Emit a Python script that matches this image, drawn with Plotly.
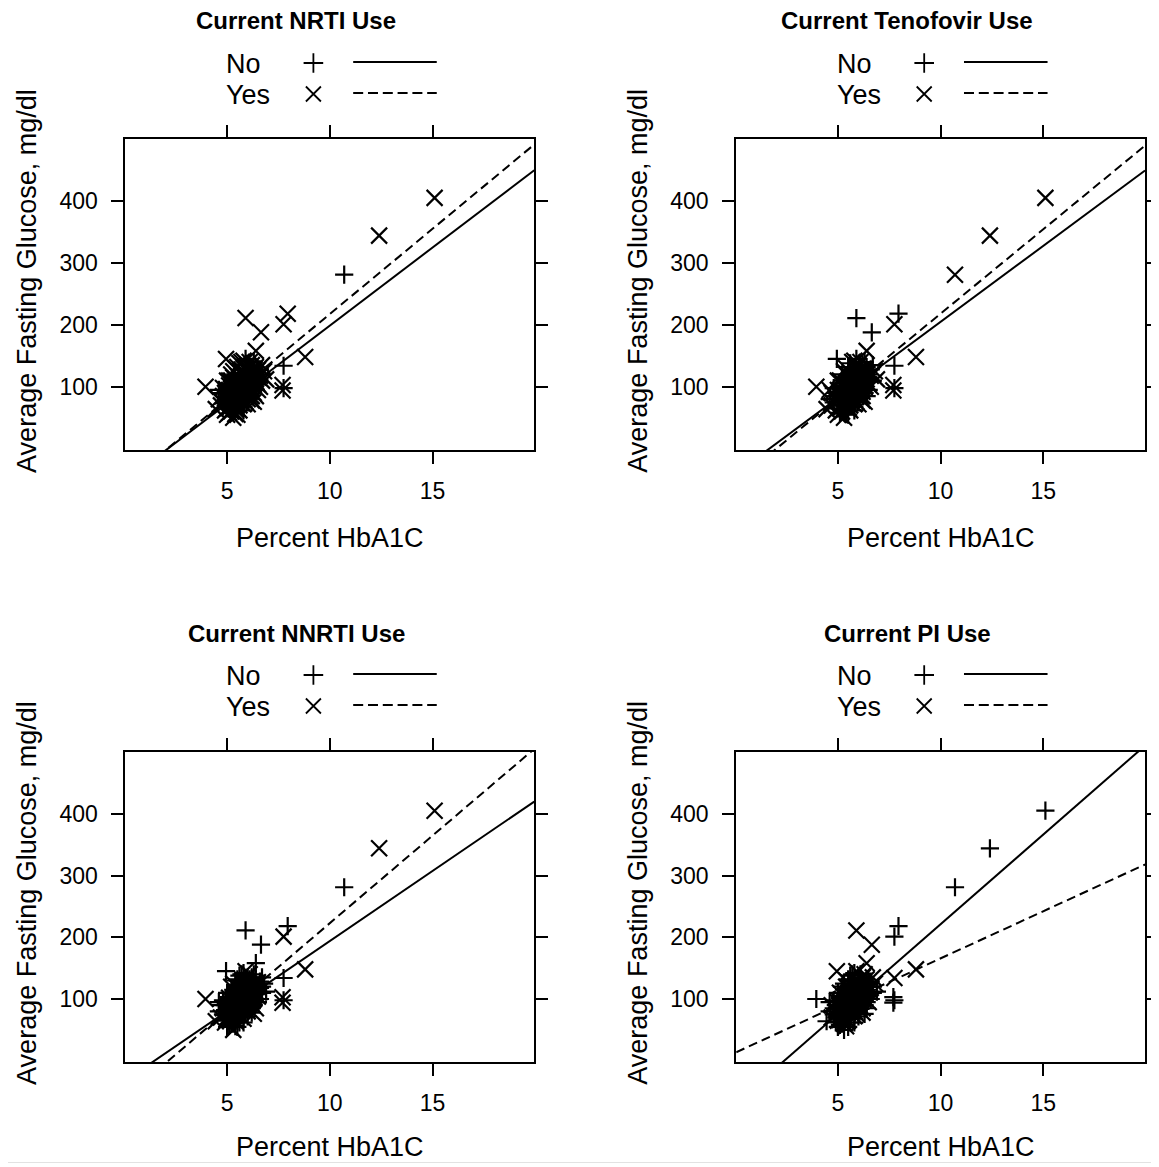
import plotly.graph_objects as go

# page shows the figure with an 8px body margin; work in screenshot pixels
PAGE_W, PAGE_H = 1159, 1167
OFF = 8
W, H = PAGE_W - OFF, PAGE_H - OFF

# ---------------- data ----------------
# dense cluster of patients followed by the 17 visible outliers;
# the same patients appear in every panel, only the grouping changes
hba1c = [
    4.8, 4.9, 5.0, 5.0, 5.1, 5.1, 5.2, 5.2, 5.2, 5.3,
    5.3, 5.3, 5.4, 5.4, 5.4, 5.4, 5.5, 5.5, 5.5, 5.5,
    5.5, 5.6, 5.6, 5.6, 5.6, 5.6, 5.7, 5.7, 5.7, 5.7,
    5.7, 5.8, 5.8, 5.8, 5.8, 5.8, 5.9, 5.9, 5.9, 5.9,
    5.9, 6.0, 6.0, 6.0, 6.0, 6.0, 6.1, 6.1, 6.1, 6.1,
    6.2, 6.2, 6.2, 6.2, 6.3, 6.3, 6.3, 6.4, 6.4, 6.5,
    6.5, 6.6, 6.7, 4.7, 4.6, 4.9, 5.1, 5.3, 5.0, 5.2,
    5.4, 5.6, 5.8, 6.0, 6.2, 6.4, 6.6, 6.8, 5.1, 5.3,
    5.5, 5.7, 5.9, 6.1, 6.3, 5.4, 5.6, 5.8, 5.0, 4.8,
    4.7, 5.2, 5.4, 5.6, 5.8, 6.0, 6.2, 6.4, 6.5, 5.3,
    5.5, 5.7, 5.9, 6.1, 5.2, 6.9, 6.7, 5.0, 5.5, 6.3,
    5.1, 5.3, 5.5, 5.7, 5.9, 6.1, 6.3, 5.2, 5.4, 5.6,
    5.8, 6.0, 6.2, 5.0, 5.2, 5.4, 5.6, 5.8, 6.0, 6.2,
    6.4, 6.6, 5.3, 5.5, 5.7, 5.9, 6.1, 6.3, 6.5, 5.1,
    4.9, 5.1, 5.3, 5.5, 5.7, 5.9, 6.1, 6.3, 6.5, 6.7,
    4.6, 4.8, 5.0, 5.2, 5.4, 5.6, 5.8, 6.0, 6.2, 6.4,
    # outliers
    15.1, 12.4, 10.7, 5.9, 6.65, 7.95, 7.75, 7.75, 8.8, 7.7,
    7.7, 3.95, 4.95, 6.4, 5.3, 4.45, 7.75,
]
glucose = [
    75, 82, 70, 88, 95, 78, 85, 100, 68, 92,
    80, 105, 88, 97, 74, 112, 90, 83, 101, 118,
    65, 94, 86, 108, 77, 125, 99, 91, 115, 82,
    104, 96, 88, 120, 109, 72, 101, 93, 130, 112,
    84, 105, 97, 118, 89, 135, 110, 100, 123, 92,
    107, 116, 98, 128, 112, 103, 140, 120, 108, 115,
    127, 118, 110, 90, 80, 62, 58, 60, 110, 120,
    130, 138, 142, 80, 85, 95, 100, 125, 102, 115,
    108, 128, 76, 84, 90, 64, 70, 62, 95, 98,
    70, 76, 82, 98, 102, 112, 92, 132, 104, 98,
    95, 87, 121, 140, 92, 112, 135, 55, 55, 76,
    85, 88, 78, 95, 105, 115, 125, 110, 120, 115,
    130, 125, 135, 80, 72, 92, 104, 80, 92, 102,
    112, 128, 70, 72, 76, 88, 96, 108, 120, 66,
    90, 110, 125, 132, 140, 145, 132, 118, 95, 120,
    95, 85, 65, 60, 56, 62, 68, 72, 78, 85,
    # outliers
    405, 344, 281, 211, 188, 218, 201, 134, 148, 103,
    94, 100, 145, 158, 50, 64, 98,
]
# N = "No" (+), Y = "Yes" (x); cluster part (160) then outliers (17)
nrti_use = "".join([
    "YYNYYYYYNY", "YNYYYYYNYY", "YYYNYYYYNY", "YYNYYYYYYN",
    "YYYYNYYYYY", "NYYYYYNYYY", "YYYNYYYNYY", "YYYYYNYYYY",
    "NYYYYYYNYY", "YYNYYYYYYN", "YYYYNYYYYY", "YNYYYYYYNY",
    "YYYYNYYNYY", "YNYYYYYYNY", "YYYYYNYYYN", "NYYYYYNYYY",
    "YYNYYYYNYYYYYYYYN",
])
tenofovir_use = "".join([
    "NYNYYNYNYN", "YNYYNNYNYN", "YNNYYNYNYN", "NYYNYYNNYN",
    "YNYNYYNNYN", "NYNYNYNYYN", "NYNYNYNNYN", "YNYNYNYYNN",
    "YNYYNNYNYN", "YNYNYNYNYN", "NYNYNYNYNY", "YNNYNYYNYN",
    "NYNYYNNYNY", "YNYNNYNYNY", "NYYNYNNYNY", "YNNYNYNYYN",
    "YYYNNNYNYYYYNYYYN",
])
nnrti_use = "".join([
    "NNYNNNYNNN", "YNNNYNNNNY", "NNYNNNNNYN", "YNNNNNYNNY",
    "NNNNYNNYNN", "NYNNNNNYNN", "YNNNNYNNNY", "NNNYNNNNYN",
    "NYNNNYNNNN", "YNNNNNYNYN", "NNNYNNNNNY", "NYNNYNNNNN",
    "NNNNYNYNNN", "YNNNNNNYNN", "NNYNNYNNNN", "NYNNNNYNNY",
    "YYNNNNYNYYYYNNYYN",
])
pi_use = "".join([
    "NYNNYNNYNN", "YNNYNNYNNN", "YNYNNNYNNY", "NYNNNYNNYN",
    "NNYNYNNNYN", "YNNNYNYNNN", "NYNYNNNYNN", "YNNNYNNYNN",
    "NNYNNYNNYN", "YNNYNNNYNN", "NYNNYNYNNN", "YNNYNNNNYN",
    "NNYNYNNYNN", "YNNNYNYNNY", "NYNNNYNNYN", "NNYNYNNNYN",
    "NNNYYNNYYNNNYYNNN",
])

panel_titles = ["Current NRTI Use", "Current Tenofovir Use",
                "Current NNRTI Use", "Current PI Use"]
panel_groups = [nrti_use, tenofovir_use, nnrti_use, pi_use]
for g in panel_groups:
    assert len(g) == len(hba1c) == len(glucose), (len(g), len(hba1c), len(glucose))

# fitted regression lines per panel: "No" (solid) and "Yes" (dashed)
fit_no_intercept = [-53.2, -40.7, -33.2, -69.4]
fit_no_slope = [25.2, 24.55, 22.7, 29.06]
fit_yes_intercept = [-57.5, -54.5, -60.8, 13.0]
fit_yes_slope = [27.5, 27.26, 28.36, 15.28]

x_ticks = [5, 10, 15]
y_ticks = [100, 200, 300, 400]
x_range = [0.05, 19.95]
y_range = [-2, 500]

# ---------------- layout geometry (screenshot pixels) ----------------
box_x = [(126, 537), (740, 1151), (126, 537), (740, 1151)]
box_y = [(139, 450), (139, 450), (752, 1062), (752, 1062)]
offs = [(0, 0), (614, 0), (0, 612), (614, 612)]

FONT = "Liberation Sans, Arial, sans-serif"
fig = go.Figure()
annotations = []
shapes = []
layout = dict(
    width=W, height=H, margin=dict(l=0, r=0, t=0, b=0),
    paper_bgcolor="white", plot_bgcolor="rgba(0,0,0,0)", showlegend=False,
    font=dict(family=FONT, color="black"),
)


def px(x):
    return (x - OFF) / W


def py(y):
    return 1 - (y - OFF) / H


for i in range(4):
    n = i + 1
    xa = "x" if n == 1 else f"x{n}"
    ya = "y" if n == 1 else f"y{n}"
    groups = panel_groups[i]
    for code, sym, nm in (("N", "cross-thin-open", "No"), ("Y", "x-thin-open", "Yes")):
        xs = [h for h, g in zip(hba1c, groups) if g == code]
        ys = [v for v, g in zip(glucose, groups) if g == code]
        fig.add_trace(go.Scatter(
            x=xs, y=ys, mode="markers", name=nm, xaxis=xa, yaxis=ya,
            marker=dict(symbol=sym, size=13 if code == "N" else 16, color="black",
                        line=dict(color="black", width=2.2)),
        ))
    for a, b, dash in ((fit_no_intercept[i], fit_no_slope[i], "solid"),
                       (fit_yes_intercept[i], fit_yes_slope[i], "9px,5px")):
        fig.add_trace(go.Scatter(
            x=x_range, y=[a + b * x_range[0], a + b * x_range[1]],
            mode="lines", xaxis=xa, yaxis=ya,
            line=dict(color="black", width=2, dash=dash),
        ))

    (x0, x1), (y0, y1) = box_x[i], box_y[i]
    axcommon = dict(showgrid=False, zeroline=False, showline=True, linecolor="black",
                    linewidth=2, mirror="ticks", ticks="outside", ticklen=12,
                    tickwidth=2, tickcolor="black",
                    tickfont=dict(size=23, family=FONT, color="black"))
    layout["xaxis" if n == 1 else f"xaxis{n}"] = dict(
        domain=[px(x0), px(x1)], range=x_range, tickvals=x_ticks,
        anchor=ya, ticklabelstandoff=7, **axcommon)
    layout["yaxis" if n == 1 else f"yaxis{n}"] = dict(
        domain=[py(y1), py(y0)], range=y_range, tickvals=y_ticks,
        anchor=xa, ticklabelstandoff=9, **axcommon)

    ox, oy = offs[i]
    cx = (x0 + x1) / 2
    # axis titles
    annotations.append(dict(text="Percent HbA1C", x=px(cx), y=py(min(538 + oy, 1147)),
                            xref="paper", yref="paper", showarrow=False,
                            xanchor="center", yanchor="middle",
                            font=dict(size=27, family=FONT, color="black")))
    annotations.append(dict(text="Average Fasting Glucose, mg/dl", x=px(27 + ox),
                            y=py(281 + oy), xref="paper", yref="paper",
                            showarrow=False, textangle=-90,
                            xanchor="center", yanchor="middle",
                            font=dict(size=27, family=FONT, color="black")))
    # panel title
    annotations.append(dict(text="<b>" + panel_titles[i] + "</b>", x=px(298 + ox),
                            y=py(21 + oy), xref="paper", yref="paper",
                            showarrow=False, xanchor="center", yanchor="middle",
                            font=dict(size=24, family=FONT, color="black")))
    # key
    for lab, ky in (("No", 64), ("Yes", 95)):
        annotations.append(dict(text=lab, x=px(225 + ox), y=py(ky + oy),
                                xref="paper", yref="paper", showarrow=False,
                                xanchor="left", yanchor="middle",
                                font=dict(size=27, family=FONT, color="black")))
    fig.add_trace(go.Scatter(
        x=[315 + ox], y=[63 + oy], mode="markers", xaxis="x5", yaxis="y5",
        marker=dict(symbol="cross-thin-open", size=14, color="black",
                    line=dict(color="black", width=1.8))))
    fig.add_trace(go.Scatter(
        x=[315 + ox], y=[94 + oy], mode="markers", xaxis="x5", yaxis="y5",
        marker=dict(symbol="x-thin-open", size=15, color="black",
                    line=dict(color="black", width=1.8))))
    shapes.append(dict(type="line", xref="paper", yref="paper",
                       x0=px(355 + ox), x1=px(439 + ox), y0=py(62 + oy), y1=py(62 + oy),
                       line=dict(color="black", width=2)))
    shapes.append(dict(type="line", xref="paper", yref="paper",
                       x0=px(355 + ox), x1=px(439 + ox), y0=py(93 + oy), y1=py(93 + oy),
                       line=dict(color="black", width=2, dash="10px,4.8px")))

layout["xaxis5"] = dict(domain=[0, 1], range=[OFF, PAGE_W], visible=False, anchor="y5")
layout["yaxis5"] = dict(domain=[0, 1], range=[PAGE_H, OFF], visible=False, anchor="x5")
shapes.append(dict(type="line", xref="paper", yref="paper", x0=0, x1=1,
                   y0=py(1162.5), y1=py(1162.5), line=dict(color="#e2e2e2", width=1)))
layout["annotations"] = annotations
layout["shapes"] = shapes
fig.update_layout(**layout)
fig.write_html("out.html")
